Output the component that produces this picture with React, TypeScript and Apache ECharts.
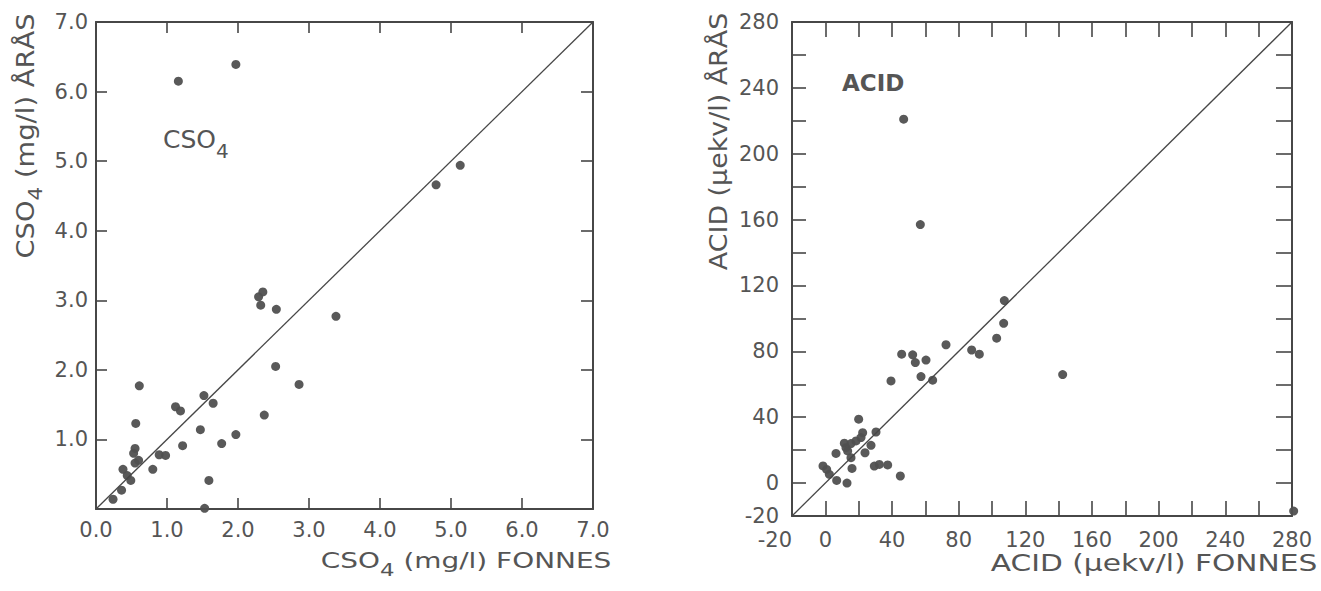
import React, { useEffect, useRef } from 'react';
import * as echarts from 'echarts';

// ---- Data ----
// Left panel: CSO4 (mg/l), x = FONNES, y = ÅRÅS
const cso4Fonnes = [0.24, 0.36, 0.38, 0.44, 0.49, 0.56, 0.61, 0.55, 0.53, 0.55, 0.6, 0.8, 0.89, 0.98, 1.12, 1.19, 1.22, 1.52, 1.65, 1.47, 1.59, 1.53, 1.77, 1.97, 2.29, 2.35, 2.32, 2.54, 2.53, 2.37, 2.86, 3.38, 4.79, 5.13, 1.16, 1.97];
const cso4Aras = [0.14, 0.27, 0.57, 0.48, 0.41, 1.23, 1.77, 0.87, 0.8, 0.66, 0.7, 0.57, 0.78, 0.77, 1.47, 1.41, 0.91, 1.63, 1.52, 1.14, 0.41, 0.01, 0.94, 1.07, 3.05, 3.12, 2.93, 2.87, 2.05, 1.35, 1.79, 2.77, 4.66, 4.94, 6.15, 6.39];
const cso4Diagonal = [[0, 0], [7, 7]];
const cso4Range = [0, 7];
const cso4TickSplits = 7; // inner ticks at every 1.0

// Right panel: ACID (µekv/l), x = FONNES, y = ÅRÅS
const acidFonnes = [-1.4, 0.8, 2.4, 6.8, 13, 6.4, 11.4, 12.4, 13.4, 15.4, 16, 15.4, 18.4, 20, 21.4, 22.4, 23.8, 27.4, 30.4, 29.4, 32.4, 37.4, 45, 39.4, 45.8, 52.4, 54, 60.4, 57.4, 64.4, 72.4, 87.8, 92.4, 102.8, 107, 107.4, 142.4, 281, 47, 57];
const acidAras = [10.4, 8.3, 5.3, 1.6, 0, 18, 24.2, 21.5, 19.5, 15.4, 8.9, 24, 25.6, 38.8, 27.6, 30.6, 18.4, 22.9, 31, 10.3, 11.3, 11, 4.3, 62, 78.3, 77.9, 73.2, 74.7, 64.7, 62.5, 84, 80.8, 78.3, 88, 97, 110.8, 65.9, -17, 221, 157];
const acidDiagonal = [[-20, -20], [280, 280]];
const acidRange = [-20, 280];
const acidTickSplits = 15; // inner ticks at every 20

const FONT = 'DejaVu Sans';
const TEXT = '#555555';
const LINE = '#474747';
const DOT = '#505050';

const zip = (xs: number[], ys: number[]) => xs.map((x, i) => [x, ys[i]]);

const fmtCsoX = (v: number) => v.toFixed(1);
const fmtCsoY = (v: number) => (v === 0 ? '' : v.toFixed(1));
const fmtAcid = (v: number) => (v === -20 || v % 40 === 0 ? String(v) : '');

// Axis carrying the labels (value scale of the data)
function labelAxis(gridIndex: number, range: number[], interval: number, position: string, label: any) {
  return {
    gridIndex,
    type: 'value',
    min: range[0],
    max: range[1],
    interval,
    position,
    axisLine: { show: true, onZero: false, lineStyle: { color: LINE, width: 2 } },
    axisTick: { show: false, inside: true },
    axisLabel: { show: true, color: TEXT, fontFamily: FONT, fontSize: 21, showMinLabel: true, showMaxLabel: true, ...label },
    splitLine: { show: false },
  };
}

// Frame axis spanning the same pixels, used for the frame line and inward tick marks
function tickAxis(gridIndex: number, range: number[], splits: number, position: string, len: number, showLine: boolean) {
  const span = range[1] - range[0];
  return {
    gridIndex,
    type: 'value',
    min: 0,
    max: span,
    interval: span,
    position,
    axisLine: { show: showLine, onZero: false, lineStyle: { color: LINE, width: 2 } },
    axisTick: { show: false, inside: true },
    minorTick: { show: true, splitNumber: splits, length: len, lineStyle: { color: LINE, width: 1.6 } },
    axisLabel: { show: false },
    splitLine: { show: false },
    minorSplitLine: { show: false },
  };
}

const subRich = (size: number, pad: number) => ({
  n: { fontFamily: FONT, fontSize: size, lineHeight: size, fill: TEXT, verticalAlign: 'top' },
  s: { fontFamily: FONT, fontSize: Math.round(size * 0.8), lineHeight: Math.round(size * 0.8), padding: [pad, 0, 0, 0], fill: TEXT, verticalAlign: 'top' },
});

export default function App() {
  const ref = useRef<HTMLDivElement>(null);
  useEffect(() => {
    if (!ref.current) return;
    const chart = echarts.init(ref.current, null, { renderer: 'svg' });
    chart.setOption({
      animation: false,
      backgroundColor: '#ffffff',
      grid: [
        { left: 96, top: 22, width: 497, height: 487 },
        { left: 792, top: 22, width: 500, height: 494 },
      ],
      xAxis: [
        labelAxis(0, cso4Range, 1, 'bottom', { formatter: fmtCsoX, margin: 10 }),
        tickAxis(0, cso4Range, cso4TickSplits, 'top', 11, true),
        tickAxis(0, cso4Range, cso4TickSplits, 'bottom', 11, false),
        labelAxis(1, acidRange, 20, 'bottom', { formatter: fmtAcid, margin: 13, alignMinLabel: 'right' }),
        tickAxis(1, acidRange, acidTickSplits, 'top', 15, true),
        tickAxis(1, acidRange, acidTickSplits, 'bottom', 15, false),
      ],
      yAxis: [
        labelAxis(0, cso4Range, 1, 'left', { formatter: fmtCsoY, margin: 8 }),
        tickAxis(0, cso4Range, cso4TickSplits, 'right', 12, true),
        tickAxis(0, cso4Range, cso4TickSplits, 'left', 11, false),
        labelAxis(1, acidRange, 20, 'left', { formatter: fmtAcid, margin: 13 }),
        tickAxis(1, acidRange, acidTickSplits, 'right', 16, true),
        tickAxis(1, acidRange, acidTickSplits, 'left', 14, false),
      ],
      series: [
        { type: 'line', xAxisIndex: 0, yAxisIndex: 0, data: cso4Diagonal, symbol: 'none', silent: true, lineStyle: { color: LINE, width: 1.3 } },
        { type: 'scatter', xAxisIndex: 0, yAxisIndex: 0, data: zip(cso4Fonnes, cso4Aras), symbolSize: 9, clip: false, itemStyle: { color: DOT, opacity: 0.95 } },
        { type: 'line', xAxisIndex: 3, yAxisIndex: 3, data: acidDiagonal, symbol: 'none', silent: true, lineStyle: { color: LINE, width: 1.3 } },
        { type: 'scatter', xAxisIndex: 3, yAxisIndex: 3, data: zip(acidFonnes, acidAras), symbolSize: 9, clip: false, itemStyle: { color: DOT, opacity: 0.95 } },
      ],
      graphic: [
        { type: 'text', x: 163, y: 139, style: { text: '{n|CSO}{s|4}', rich: subRich(25, 14), align: 'left', verticalAlign: 'middle' } },
        { type: 'text', x: 842, y: 82.5, style: { text: 'ACID', fontFamily: FONT, fontSize: 23, fontWeight: 'bold', fill: TEXT, align: 'left', verticalAlign: 'middle' } },
        { type: 'text', x: 25.5, y: 136, rotation: Math.PI / 2, scaleX: 1.14, style: { text: '{n|CSO}{s|4}{n| (mg/l) ÅRÅS}', rich: subRich(24, 12), align: 'center', verticalAlign: 'middle' } },
        { type: 'text', x: 719, y: 141.5, rotation: Math.PI / 2, scaleX: 1.12, style: { text: 'ACID (µekv/l) ÅRÅS', fontFamily: FONT, fontSize: 24, fill: TEXT, align: 'center', verticalAlign: 'middle' } },
        { type: 'text', x: 466, y: 561, scaleX: 1.27, style: { text: '{n|CSO}{s|4}{n| (mg/l) FONNES}', rich: subRich(22, 11), align: 'center', verticalAlign: 'middle' } },
        { type: 'text', x: 1154, y: 563, scaleX: 1.29, style: { text: 'ACID (µekv/l) FONNES', fontFamily: FONT, fontSize: 23, fill: TEXT, align: 'center', verticalAlign: 'middle' } },
      ],
    });
    return () => chart.dispose();
  }, []);
  return <div ref={ref} style={{ position: 'absolute', left: 0, top: 0, width: 1321, height: 591 }} />;
}
